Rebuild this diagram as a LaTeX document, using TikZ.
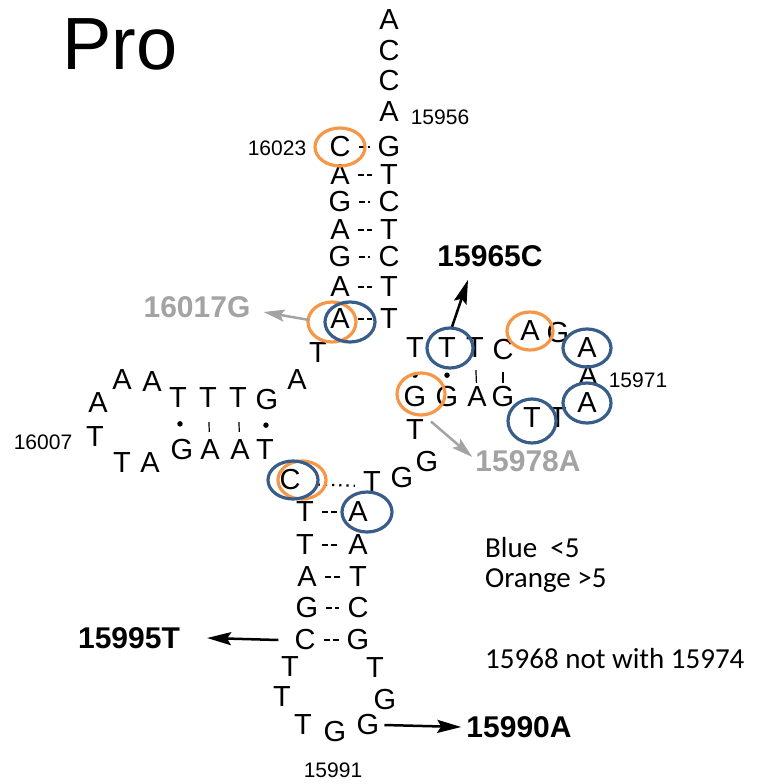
\documentclass[tikz,border=0pt]{standalone}
\usepackage{fontspec}
\setmainfont{Liberation Sans}
\newfontfamily\legfont{Carlito}
\usetikzlibrary{arrows.meta}
\definecolor{ringorange}{HTML}{F79646}
\definecolor{ringblue}{HTML}{385D8A}
\definecolor{mutgray}{HTML}{A3A3A3}

\begin{document}
\begin{tikzpicture}[x=1pt, y=-1pt,
	nt/.style={inner sep=0pt, font=\fontsize{29}{29}\selectfont},
	posnum/.style={inner sep=0pt, font=\fontsize{21}{21}\selectfont},
	mut/.style={inner sep=0pt, font=\fontsize{30}{30}\selectfont\bfseries},
	gmut/.style={mut, text=mutgray},
	leg/.style={inner sep=0pt, anchor=base west, font=\legfont\fontsize{29}{29}\selectfont},
	pr/.style={line width=1.8pt, dash pattern=on 6pt off 3pt on 6pt, shorten <=8pt, shorten >=8pt},
	wb/.style={line width=1.2pt},
	gu/.style={circle, fill=black, inner sep=0pt, minimum size=5.5pt},
	orng/.style={draw=ringorange, line width=3.2pt},
	blu/.style={draw=ringblue, line width=3.2pt},
	arr/.style={-{Stealth[length=24pt, width=13pt, inset=4pt]}, line width=2.5pt},
	garr/.style={arr, draw=mutgray, -{Stealth[length=21pt, width=12pt, inset=4pt, fill=mutgray]}}]
	\useasboundingbox (0,0) rectangle (757,784);

	\node[anchor=base west, inner sep=0pt, font=\fontsize{74}{74}\selectfont] (pro) at (62,70) {Pro};

	\begin{scope}
	\tikzstyle{every node}=[nt]
		\node (a1) at (389, 20) {A};
		\node (a2) at (389, 51) {C};
		\node (a3) at (389, 81) {C};
		\node (a4) at (389,112) {A};
		\node (r1) at (389,147) {G};
		\node (r2) at (389,175) {T};
		\node (r3) at (389,202) {C};
		\node (r4) at (389,230) {T};
		\node (r5) at (389,257) {C};
		\node (r6) at (389,287) {T};
		\node (r7) at (389,319) {T};
		\node (l1) at (340,147) {C};
		\node (l2) at (340,175) {A};
		\node (l3) at (340,202) {G};
		\node (l4) at (340,230) {A};
		\node (l5) at (340,257) {G};
		\node (l6) at (340,287) {A};
		\node (l7) at (340,319) {A};

		\node (d1) at (318,353) {T};
		\node (d2) at (297,380) {A};
		\node (d3) at (267,400) {G};
		\node (d4) at (238,398) {T};
		\node (d5) at (208,398) {T};
		\node (d6) at (178,398) {T};
		\node (d7) at (152,382) {A};
		\node (d8) at (122,380) {A};
		\node (d9) at (98,403) {A};
		\node (d10) at (95,437) {T};
		\node (d11) at (122,463) {T};
		\node (d12) at (150,463) {A};
		\node (d13) at (182,450) {G};
		\node (d14) at (210,450) {A};
		\node (d15) at (240,450) {A};
		\node (d16) at (265,450) {T};

		\node (c1) at (290,480) {C};
		\node (v1) at (372,482) {T};
		\node (v2) at (402,478) {G};
		\node (v3) at (427,462) {G};
		\node (v4) at (415,430) {T};

		\node (s1) at (305,512) {T};
		\node (s2) at (305,545) {T};
		\node (s3) at (307,577) {A};
		\node (s4) at (307,608) {G};
		\node (s5) at (305,640) {C};
		\node (q1) at (358,512) {A};
		\node (q2) at (358,545) {A};
		\node (q3) at (358,577) {T};
		\node (q4) at (358,608) {C};
		\node (q5) at (358,640) {G};
		\node (k1) at (290,667) {T};
		\node (k2) at (282,697) {T};
		\node (k3) at (303,725) {T};
		\node (k4) at (335,732) {G};
		\node (k5) at (368,725) {G};
		\node (k6) at (385,700) {G};
		\node (k7) at (375,668) {T};

		\node (u1) at (415,348) {T};
		\node (u2) at (447,348) {T};
		\node (u3) at (475,348) {T};
		\node (u4) at (503,350) {C};
		\node (t1) at (530,331) {A};
		\node (t2) at (558,333) {G};
		\node (t3) at (587,348) {A};
		\node (t4) at (588,376) {A};
		\node (t5) at (587,403) {A};
		\node (t6) at (558,418) {T};
		\node (t7) at (532,418) {T};
		\node (w4) at (503,397) {G};
		\node (w3) at (477,397) {A};
		\node (w2) at (447,397) {G};
		\node (w1) at (415,397) {G};
	\end{scope}

	\node[posnum] (n15956) at (440,117) {15956};
	\node[posnum] (n16023) at (277,148) {16023};
	\node[posnum] (n16007) at (43,442) {16007};
	\node[posnum] (n15971) at (638,380) {15971};
	\node[posnum] (n15991) at (333,770) {15991};

	\draw[pr] (l1) -- (r1);
	\draw[pr] (l2) -- (r2);
	\draw[pr] (l3) -- (r3);
	\draw[pr] (l4) -- (r4);
	\draw[pr] (l5) -- (r5);
	\draw[pr] (l6) -- (r6);
	\draw[pr] (l7) -- (r7);
	\draw[pr] (s1) -- (q1);
	\draw[pr] (s2) -- (q2);
	\draw[pr] (s3) -- (q3);
	\draw[pr] (s4) -- (q4);
	\draw[pr] (s5) -- (q5);
	\draw[line width=2.2pt, dash pattern=on 2.2pt off 5pt, shorten <=17pt, shorten >=8pt] ([yshift=-4pt]c1.east) -- ([yshift=-4pt]v1.west);

	\draw[wb, shorten <=14pt, shorten >=8pt] (d5) -- (d14);
	\draw[wb, shorten <=14pt, shorten >=8pt] (d4) -- (d15);
	\draw[wb, shorten <=12pt, shorten >=4pt] (u3) -- (w3);
	\draw[wb, shorten <=12pt, shorten >=4pt] (u4) -- (w4);
	\path (d6) -- node[gu] (gu1) {} (d13);
	\path (d3) -- node[gu] (gu2) {} (d16);
	\path (u1) -- node[gu, pos=0.6] (gu3) {} (w1);
	\path (u2) -- node[gu, pos=0.6] (gu4) {} (w2);

	\draw[orng] (l1) ellipse [x radius=25pt, y radius=19pt];
	\draw[orng] ([xshift=-8pt, yshift=-3pt]l7) ellipse [x radius=24pt, y radius=20pt];
	\draw[blu] ([xshift=10pt, yshift=-3pt]l7) ellipse [x radius=25pt, y radius=20pt];
	\draw[orng] ([xshift=6pt, yshift=3pt]w1) ellipse [x radius=24pt, y radius=21pt];
	\draw[orng] (t1) ellipse [x radius=23pt, y radius=19pt];
	\draw[orng] ([xshift=12pt]c1) ellipse [x radius=24pt, y radius=19pt];
	\draw[blu] ([xshift=3pt]c1) ellipse [x radius=25pt, y radius=19pt];
	\draw[blu] ([xshift=3pt]u2) ellipse [x radius=23pt, y radius=20pt];
	\draw[blu] (t3) ellipse [x radius=24pt, y radius=19pt];
	\draw[blu] (t5) ellipse [x radius=24pt, y radius=20pt];
	\draw[blu] ([yshift=-3pt]t7) ellipse [x radius=24pt, y radius=22pt];
	\draw[blu] ([xshift=9pt]q1) ellipse [x radius=25pt, y radius=20pt];

	\node[mut] (m15965) at (490,256) {15965C};
	\node[gmut] (m16017) at (197,307) {16017G};
	\node[gmut] (m15978) at (528,461) {15978A};
	\node[mut] (m15995) at (129,638) {15995T};
	\node[mut] (m15990) at (519,727) {15990A};

	\draw[arr] ([xshift=5pt, yshift=11pt]u2.north) to ([xshift=-22pt, yshift=-13pt]m15965.south);
	\draw[garr] ([xshift=-21pt, yshift=-1pt]l7.west) to ([xshift=13pt, yshift=-5pt]m16017.east);
	\draw[garr] ([xshift=16pt, yshift=-14pt]w1.south) to ([xshift=-3pt, yshift=4pt]m15978.west);
	\draw[arr] ([xshift=-16pt]s5.west) to ([xshift=27pt]m15995.east);
	\draw[arr] ([xshift=5pt]k5.east) to ([xshift=-5pt]m15990.west);

	\node[leg] (lblue) at (485,557) {Blue\ \ <5};
	\node[leg] (lorange) at (485,587) {Orange >5};
	\node[leg] (lnote) at (485,668) {15968 not with 15974};
\end{tikzpicture}
\end{document}
